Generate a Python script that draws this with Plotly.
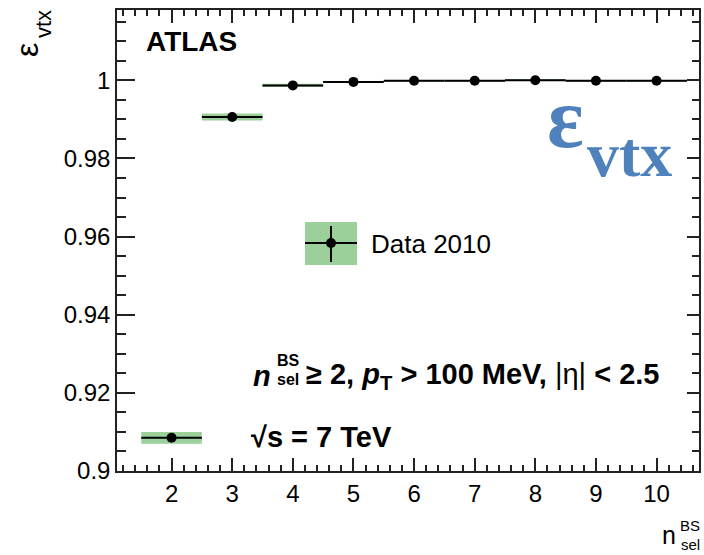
import plotly.graph_objects as go

# Vertex reconstruction efficiency vs. number of selected tracks
n_sel = [2, 3, 4, 5, 6, 7, 8, 9, 10]
bin_lo = [1.5, 2.5, 3.5, 4.5, 5.5, 6.5, 7.5, 8.5, 9.5]
bin_hi = [2.5, 3.5, 4.5, 5.5, 6.5, 7.5, 8.5, 9.5, 10.5]
eff = [0.9085, 0.9906, 0.9987, 0.9996, 0.9999, 0.9999, 1.0, 0.9999, 0.9999]
eff_err = [0.0015, 0.0009, 0.0004, 0.0002, 0.0001, 0.0001, 0.0001, 0.0001, 0.0001]

y_ticks = [0.9, 0.92, 0.94, 0.96, 0.98, 1.0]
y_ticktext = ["0.9", "0.92", "0.94", "0.96", "0.98", "1"]
x_ticks = [2, 3, 4, 5, 6, 7, 8, 9, 10]

GREEN = "rgb(155,208,155)"
BLUE = "#4F81BD"
SANS = "Liberation Sans, Arial, Helvetica, sans-serif"
SERIF = "Liberation Serif, Times New Roman, serif"

W, H = 704, 555
L, R, T, B = 117, 5, 10, 84
PW, PH = W - L - R, H - T - B


def px(x):
    return (x - L) / PW


def py(y):
    return (H - B - y) / PH


centers = [(a + b) / 2 for a, b in zip(bin_lo, bin_hi)]
widths = [b - a for a, b in zip(bin_lo, bin_hi)]

fig = go.Figure()

# uncertainty band
fig.add_trace(go.Bar(
    x=centers,
    y=[2 * e for e in eff_err],
    base=[v - e for v, e in zip(eff, eff_err)],
    width=widths,
    marker=dict(color=GREEN, line=dict(width=0)),
    showlegend=False,
    hoverinfo="skip",
))

# data points with bin-width horizontal bars
fig.add_trace(go.Scatter(
    x=n_sel,
    y=eff,
    mode="markers",
    marker=dict(color="black", size=10),
    error_x=dict(type="data", symmetric=False,
                 array=[h - c for h, c in zip(bin_hi, n_sel)],
                 arrayminus=[c - l for l, c in zip(bin_lo, n_sel)],
                 color="black", thickness=2, width=0),
    showlegend=False,
))

# empty trace to carry the right-hand axis
fig.add_trace(go.Scatter(x=[None], y=[None], yaxis="y2", showlegend=False,
                         hoverinfo="skip"))

axis_common = dict(
    showline=True, linecolor="#222", linewidth=1.5,
    ticks="inside", tickcolor="#222", tickwidth=1.5,
    showgrid=False, zeroline=False,
    tickfont=dict(family=SANS, size=24, color="black"),
)

fig.update_layout(
    width=W, height=H,
    margin=dict(l=L, r=R, t=T, b=B),
    paper_bgcolor="white", plot_bgcolor="white",
    barmode="overlay",
    xaxis=dict(
        **axis_common,
        range=[1.1, 10.7],
        tickvals=x_ticks,
        ticklen=13,
        mirror="ticks",
        minor=dict(dtick=0.2, tick0=0, ticklen=6, ticks="inside",
                   tickcolor="#222", tickwidth=1.5),
        ticklabelstandoff=0,
    ),
    yaxis=dict(
        **axis_common,
        range=[0.9, 1.018],
        tickvals=y_ticks,
        ticktext=y_ticktext,
        ticklen=18,
        minor=dict(dtick=0.005, tick0=0.9, ticklen=9, ticks="inside",
                   tickcolor="#222", tickwidth=1.5),
        ticklabelstandoff=0,
    ),
    yaxis2=dict(
        overlaying="y", side="right", matches="y",
        range=[0.9, 1.018],
        showline=True, linecolor="#222", linewidth=1.5,
        ticks="inside", tickcolor="#222", tickwidth=1.5, ticklen=12,
        tickvals=y_ticks, showticklabels=False, showgrid=False,
        zeroline=False,
        minor=dict(dtick=0.005, tick0=0.9, ticklen=7, ticks="inside",
                   tickcolor="#222", tickwidth=1.5),
    ),
)

ann = []


def text(x, y, s, size, family=SANS, color="black", xanchor="left",
         yanchor="middle", angle=0):
    ann.append(dict(x=px(x), y=py(y), xref="paper", yref="paper", text=s,
                    showarrow=False, xanchor=xanchor, yanchor=yanchor,
                    textangle=angle,
                    font=dict(family=family, size=size, color=color)))


# ATLAS label
text(144, 41, "<b>ATLAS</b>", 28)

# selection text
text(251, 376, "<b><i>n</i></b>", 29)
text(275, 360, "<b>BS</b>", 16)
text(275, 379, "<b>sel</b>", 16)
text(304, 376, "<b>≥ 2, <i>p</i><sub>T</sub> > 100 MeV, </b>|η|<b> < 2.5</b>", 29)
text(249, 437, "<b>√s = 7 TeV</b>", 29)

# legend
text(369, 244, "Data 2010", 26)

# y-axis title
text(27, 50, "ε", 32, angle=-90, xanchor="center")
text(43, 24, "vtx", 22, angle=-90, xanchor="center")

# x-axis title
text(660, 535, "n", 25)
text(678, 525, "BS", 15)
text(679, 544, "sel", 15)

# blue symbol
text(545, 118, "<b>ε</b>", 86, family=SERIF, color=BLUE)
text(585, 154, "<b>vtx</b>", 64, family=SERIF, color=BLUE)

fig.update_layout(annotations=ann)

# legend symbol
shapes = [
    dict(type="rect", xref="paper", yref="paper",
         x0=px(305), x1=px(357), y0=py(265), y1=py(222),
         fillcolor=GREEN, line=dict(width=0)),
    dict(type="line", xref="paper", yref="paper",
         x0=px(305), x1=px(357), y0=py(243), y1=py(243),
         line=dict(color="black", width=2)),
    dict(type="line", xref="paper", yref="paper",
         x0=px(331), x1=px(331), y0=py(262), y1=py(226),
         line=dict(color="black", width=2)),
    dict(type="circle", xref="paper", yref="paper",
         x0=px(326), x1=px(336), y0=py(248), y1=py(238),
         fillcolor="black", line=dict(color="black", width=0)),
]
fig.update_layout(shapes=shapes)

fig.write_html("out.html")
